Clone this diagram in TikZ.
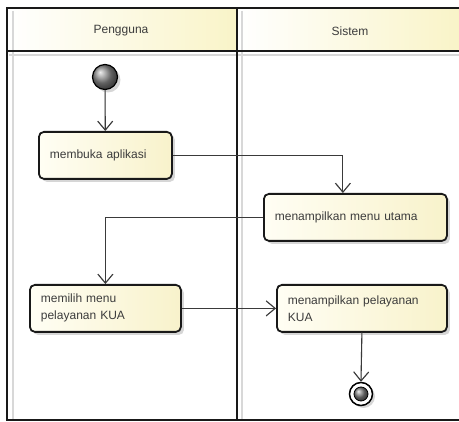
\documentclass[tikz,border=0pt]{standalone}
\usepackage{fontspec}
\setmainfont{Liberation Sans}
\usetikzlibrary{arrows.meta,shadows,calc}
\definecolor{laneL}{HTML}{FFFFFF}
\definecolor{laneR}{HTML}{F9F4C8}
\definecolor{boxL}{HTML}{FFFEF4}
\definecolor{boxR}{HTML}{F8F2CB}
\definecolor{ink}{HTML}{3C3C3C}
\definecolor{wire}{HTML}{3A3A3A}
\definecolor{ghost}{HTML}{D8D8D8}
\tikzset{
  txt/.style={font=\fontsize{12}{17}\selectfont, text=ink},
  frame/.style={draw=black!90, line width=2pt},
  ghostline/.style={draw=ghost, line width=1.5pt},
  action/.style={draw=black!90, line width=1.8pt, rounded corners=5pt,
    left color=boxL, right color=boxR, anchor=north west, align=left,
    inner xsep=11pt, inner ysep=0pt, txt,
    drop shadow={shadow xshift=3pt, shadow yshift=-3pt, fill=black, opacity=0.16}},
  initial/.style={circle, draw=black, line width=1.2pt, minimum size=25pt,
    inner sep=0pt, shading=ball, ball color=black!45,
    drop shadow={shadow xshift=3pt, shadow yshift=-3pt, fill=black, opacity=0.16}},
  finalring/.style={circle, draw=black, line width=1.5pt, fill=white,
    minimum size=23pt, inner sep=0pt,
    drop shadow={shadow xshift=2.5pt, shadow yshift=-2.5pt, fill=black, opacity=0.16}},
  flow/.style={draw=wire, line width=1.1pt,
    -{Straight Barb[length=9pt,width=15pt,line width=1.1pt]}},
  flowshadow/.style={flow, draw=ghost, shift={(2.5pt,-2.5pt)}},
}
\begin{document}
\begin{tikzpicture}[x=1pt,y=-1pt]
\useasboundingbox (0,0) rectangle (459,422);

% swimlane headers
\shade[left color=laneL, right color=laneR] (7,8) rectangle (237,51);
\shade[left color=laneL, right color=laneR] (237,8) rectangle (459,51);
\node[txt] (h1) at (121,31) {Pengguna};
\node[txt] (h2) at (350,31) {Sistem};

% lane shadows
\draw[ghostline] (13,11) -- (13,421);
\draw[ghostline] (242,11) -- (242,421);
\draw[ghostline] (9,55) -- (459,55);

% lane frame
\draw[frame] (459,8) -- (7,8) -- (7,420.5) -- (459,420.5);
\draw[frame] (7,51) -- (459,51);
\draw[frame] (237,8) -- (237,420.5);

% activity nodes
\node[initial] (s) at (105,77) {};
\node[action, minimum height=47pt, text width=111pt] (b1) at (38,131) {membuka aplikasi};
\node[action, minimum height=47pt, text width=161pt] (b2) at (263,193) {menampilkan menu utama};
\node[action, minimum height=47pt, text width=129pt] (b3) at (29,284) {memilih menu\\pelayanan KUA};
\node[action, minimum height=47pt, text width=148pt] (b4) at (276,284) {menampilkan pelayanan\\KUA};
\node[finalring] (f) at (361,394) {};
\node[circle, draw=black, line width=0.8pt, minimum size=14pt, inner sep=0pt,
      shading=ball, ball color=black!50] (fi) at (f) {};

% control flow shadows
\draw[flowshadow] (s) -- (b1);
\draw[flowshadow] (b1.east) -| ([xshift=-12.5pt]b2.north);
\draw[flowshadow] (b2.west) -| (b3.north);
\draw[flowshadow] (b3.east) -- (b4.west);
\draw[flowshadow] (b4.south) -- (f.north);

% control flows
\draw[flow] (s) -- (b1);
\draw[flow] (b1.east) -| ([xshift=-12.5pt]b2.north);
\draw[flow] (b2.west) -| (b3.north);
\draw[flow] (b3.east) -- (b4.west);
\draw[flow] (b4.south) -- (f.north);
\end{tikzpicture}
\end{document}
